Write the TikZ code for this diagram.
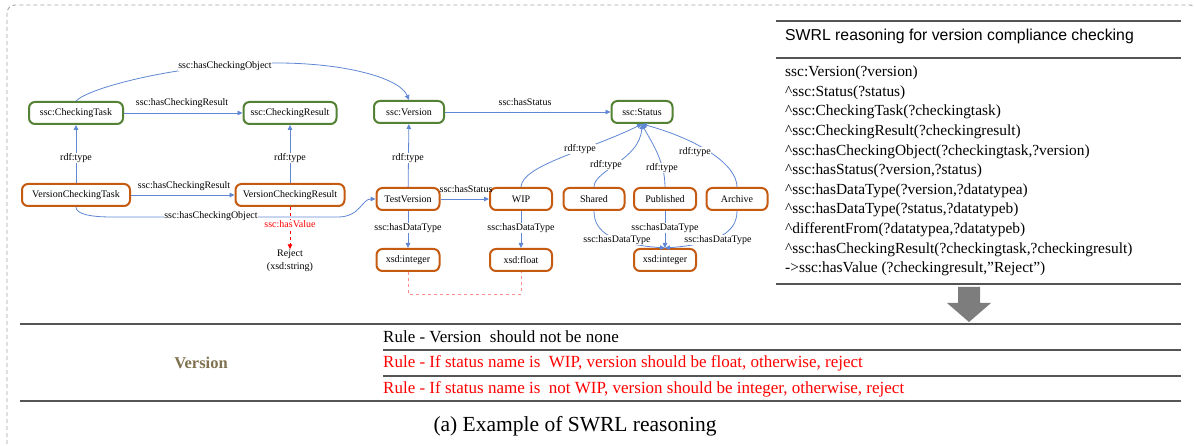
\documentclass[tikz,border=0pt]{standalone}
\usepackage{fontspec}
\setmainfont{Liberation Serif}
\newfontfamily\arialf{Liberation Sans}
\usetikzlibrary{arrows.meta}
\definecolor{gbord}{RGB}{84,130,53}
\definecolor{obord}{RGB}{197,90,17}
\definecolor{eblue}{RGB}{95,135,212}
\definecolor{rred}{RGB}{255,0,0}
\definecolor{pinkd}{RGB}{255,140,140}
\definecolor{framegray}{RGB}{165,165,165}
\definecolor{tgray}{RGB}{85,85,85}
\definecolor{olivec}{RGB}{128,114,80}
\definecolor{arrowgray}{RGB}{125,125,125}
\begin{document}
\begin{tikzpicture}[x=1pt,y=-1pt,
  nbase/.style={line width=2pt, rounded corners=6pt, minimum height=22pt, inner sep=1pt, fill=white, font=\fontsize{10}{12}\selectfont},
  gnode/.style={nbase, draw=gbord},
  onode/.style={nbase, draw=obord},
  conn/.style={draw=eblue, line width=0.8pt, -{Triangle[length=5pt,width=4.5pt]}},
  plainc/.style={draw=eblue, line width=0.8pt},
  redc/.style={draw=rred, line width=0.8pt, dashed, -{Triangle[length=5pt,width=4.5pt]}},
  lbl/.style={font=\fontsize{10}{12}\selectfont, inner sep=0.6pt},
  lblw/.style={lbl, fill=white},
  rtext/.style={anchor=west, inner sep=0pt, font=\fontsize{15.4}{19}\selectfont},
  ttext/.style={anchor=west, inner sep=0pt, font=\fontsize{17}{19}\selectfont},
  hthick/.style={draw=tgray, line width=2.5pt},
  hthin/.style={draw=tgray, line width=1.8pt},
]
\useasboundingbox (0,0) rectangle (1194,446);
% frame
\draw[framegray, line width=0.9pt, dash pattern=on 4pt off 3pt, rounded corners=8pt] (7,5) rectangle (1198,452);

% nodes
\node[gnode, minimum width=94pt] (ct) at (76,113) {ssc:CheckingTask};
\node[gnode, minimum width=93pt] (cr) at (290,113) {ssc:CheckingResult};
\node[gnode, minimum width=70pt] (ver) at (409,112) {ssc:Version};
\node[gnode, minimum width=61pt] (st) at (642,112) {ssc:Status};
\node[onode, minimum width=108pt] (vct) at (76,195) {VersionCheckingTask};
\node[onode, minimum width=109pt] (vcr) at (290,195) {VersionCheckingResult};
\node[onode, minimum width=63pt] (tv) at (408,199) {TestVersion};
\node[onode, minimum width=62pt] (wip) at (521,199) {WIP};
\node[onode, minimum width=61pt] (sh) at (594,199) {Shared};
\node[onode, minimum width=62pt] (pub) at (665,199) {Published};
\node[onode, minimum width=61pt] (ar) at (737,199) {Archive};
\node[onode, minimum width=63pt] (xi1) at (408,260) {xsd:integer};
\node[onode, minimum width=62pt] (xf) at (521,260) {xsd:float};
\node[onode, minimum width=62pt] (xi2) at (665,260) {xsd:integer};
\node[lbl, align=center, font=\fontsize{10}{13}\selectfont] (rej) at (290,261) {Reject\\(xsd:string)};

% connectors
\draw[conn] (ct) -- (cr);
\draw[conn] (vct) -- (ct);
\draw[conn] (vcr) -- (cr);
\draw[conn] (vct) -- (vcr);
\draw[conn] (ct.north) .. controls (88,88) and (180,63) .. (277,63) .. controls (345,63) and (400,78) .. (ver.north);
\draw[conn] (vct.south) .. controls (76,214) and (90,217) .. (112,217) -- (338,217) .. controls (360,217) and (362,199) .. (tv.west);
\draw[redc] (vcr.south) -- (rej.north);
\draw[conn] (ver) -- (st);
\draw[conn] (tv) -- (ver);
\draw[conn] (tv) -- (wip);
\draw[conn] (wip.north) .. controls (522,165) and (590,150) .. (st.south);
\draw[conn] (sh.north) .. controls (594,170) and (640,160) .. (st.south);
\draw[conn] (pub.north) .. controls (665,160) and (650,140) .. (st.south);
\draw[conn] (ar.north) .. controls (737,165) and (700,140) .. (st.south);
\draw[conn] (tv) -- (xi1);
\draw[conn] (wip) -- (xf);
\draw[conn] (pub) -- (xi2);
\draw[conn] (sh.south) .. controls (594,232) and (612,244) .. (xi2.north);
\draw[conn] (ar.south) .. controls (737,232) and (718,244) .. (xi2.north);
\draw[pinkd, dashed, line width=0.8pt] (xi1.south) -- ++(0,22) -| (xf.south);

% labels
\node[lbl] (l1) at (182,103) {ssc:hasCheckingResult};
\node[lbl] (l2) at (184,186) {ssc:hasCheckingResult};
\node[lblw] (l3) at (76,158) {rdf:type};
\node[lblw] (l4) at (290,158) {rdf:type};
\node[lblw] (l5) at (225,66) {ssc:hasCheckingObject};
\node[lblw] (l6) at (211,216) {ssc:hasCheckingObject};
\node[lblw, text=rred] (l7) at (290,224) {ssc:hasValue};
\node[lbl] (l8) at (525,102) {ssc:hasStatus};
\node[lblw] (l9) at (408,158) {rdf:type};
\node[lbl] (l10) at (466,189) {ssc:hasStatus};
\node[lblw] (l11) at (580,149) {rdf:type};
\node[lblw] (l12) at (606,165) {rdf:type};
\node[lblw] (l13) at (662,168) {rdf:type};
\node[lblw] (l14) at (695,152) {rdf:type};
\node[lblw] (l15) at (408,228) {ssc:hasDataType};
\node[lblw] (l16) at (521,228) {ssc:hasDataType};
\node[lblw] (l17) at (665,228) {ssc:hasDataType};
\node[lblw] (l18) at (617,240) {ssc:hasDataType};
\node[lblw] (l19) at (718,240) {ssc:hasDataType};

% right panel
\draw[draw=tgray, line width=1.5pt] (776,21) -- (1181,21);
\draw[draw=tgray, line width=2pt] (776,58) -- (1181,58);
\draw[draw=tgray, line width=2pt] (776,284) -- (1181,284);
\node[anchor=west, inner sep=0pt, font=\arialf\fontsize{15.8}{18}\selectfont] (title) at (785,36) {SWRL reasoning for version compliance checking};
\node[rtext] (r0) at (785,73) {ssc:Version(?version)};
\node[rtext] (r1) at (785,92.6) {\textasciicircum ssc:Status(?status)};
\node[rtext] (r2) at (785,112.2) {\textasciicircum ssc:CheckingTask(?checkingtask)};
\node[rtext] (r3) at (785,131.8) {\textasciicircum ssc:CheckingResult(?checkingresult)};
\node[rtext] (r4) at (785,151.4) {\textasciicircum ssc:hasCheckingObject(?checkingtask,?version)};
\node[rtext] (r5) at (785,171) {\textasciicircum ssc:hasStatus(?version,?status)};
\node[rtext] (r6) at (785,190.6) {\textasciicircum ssc:hasDataType(?version,?datatypea)};
\node[rtext] (r7) at (785,210.2) {\textasciicircum ssc:hasDataType(?status,?datatypeb)};
\node[rtext] (r8) at (785,229.8) {\textasciicircum differentFrom(?datatypea,?datatypeb)};
\node[rtext] (r9) at (785,249.4) {\textasciicircum ssc:hasCheckingResult(?checkingtask,?checkingresult)};
\node[rtext] (r10) at (785,269) {->ssc:hasValue (?checkingresult,”Reject”)};
\fill[arrowgray] (958,287) -- (980,287) -- (980,303) -- (991,303) -- (969,322) -- (947,303) -- (958,303) -- cycle;

% table
\draw[hthick] (20,324) -- (1181,324);
\draw[hthin] (383,350) -- (1181,350);
\draw[hthin] (383,376) -- (1181,376);
\draw[hthick] (20,401) -- (1181,401);
\node[font=\bfseries\fontsize{16.5}{19}\selectfont, text=olivec, inner sep=0pt] (vlab) at (201,363) {Version};
\node[ttext] (t1) at (383,337) {Rule - Version~ should not be none};
\node[ttext, text=rred] (t2) at (383,363) {Rule - If status name is~ WIP, version should be float, otherwise, reject};
\node[ttext, text=rred] (t3) at (383,389) {Rule - If status name is~ not WIP, version should be integer, otherwise, reject};

% caption
\node[font=\fontsize{21.5}{24}\selectfont, inner sep=0pt] (cap) at (575,426) {(a) Example of SWRL reasoning};
\end{tikzpicture}
\end{document}
